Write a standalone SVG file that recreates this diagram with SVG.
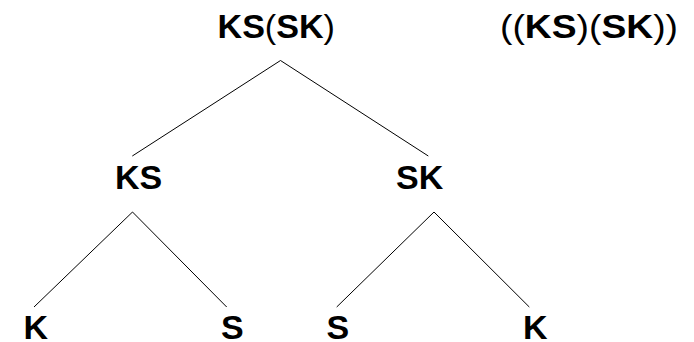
<svg xmlns="http://www.w3.org/2000/svg" width="694" height="342" viewBox="0 0 694 342">
<style>
text{font-family:"Liberation Sans",Arial,sans-serif;font-size:34px;font-weight:bold;fill:#000}
.p{font-weight:normal}
line{stroke:#000;stroke-width:1}
</style>
<rect width="694" height="342" fill="#fff"/>
<g id="edges">
<line x1="280.5" y1="60.5" x2="132.3" y2="156"/>
<line x1="280.5" y1="60.5" x2="428.3" y2="156"/>
<line x1="132.5" y1="212" x2="34" y2="307"/>
<line x1="132.5" y1="212" x2="226.7" y2="307"/>
<line x1="434" y1="212" x2="336.7" y2="307"/>
<line x1="434" y1="212" x2="529.3" y2="307"/>
</g>
<g id="root"><text x="217.5" y="37.5" textLength="117.5" lengthAdjust="spacingAndGlyphs">KS<tspan class="p">(</tspan>SK<tspan class="p">)</tspan></text></g>
<g id="formula"><text x="500" y="37.5" textLength="178" lengthAdjust="spacingAndGlyphs"><tspan class="p">((</tspan>KS<tspan class="p">)(</tspan>SK<tspan class="p">))</tspan></text></g>
<g id="ks"><text x="115" y="189">KS</text></g>
<g id="sk"><text x="396" y="189">SK</text></g>
<g id="k1"><text x="23.5" y="338.5">K</text></g>
<g id="s1"><text x="221" y="338.5">S</text></g>
<g id="s2"><text x="326.5" y="338.5">S</text></g>
<g id="k2"><text x="523" y="338.5">K</text></g>
</svg>
